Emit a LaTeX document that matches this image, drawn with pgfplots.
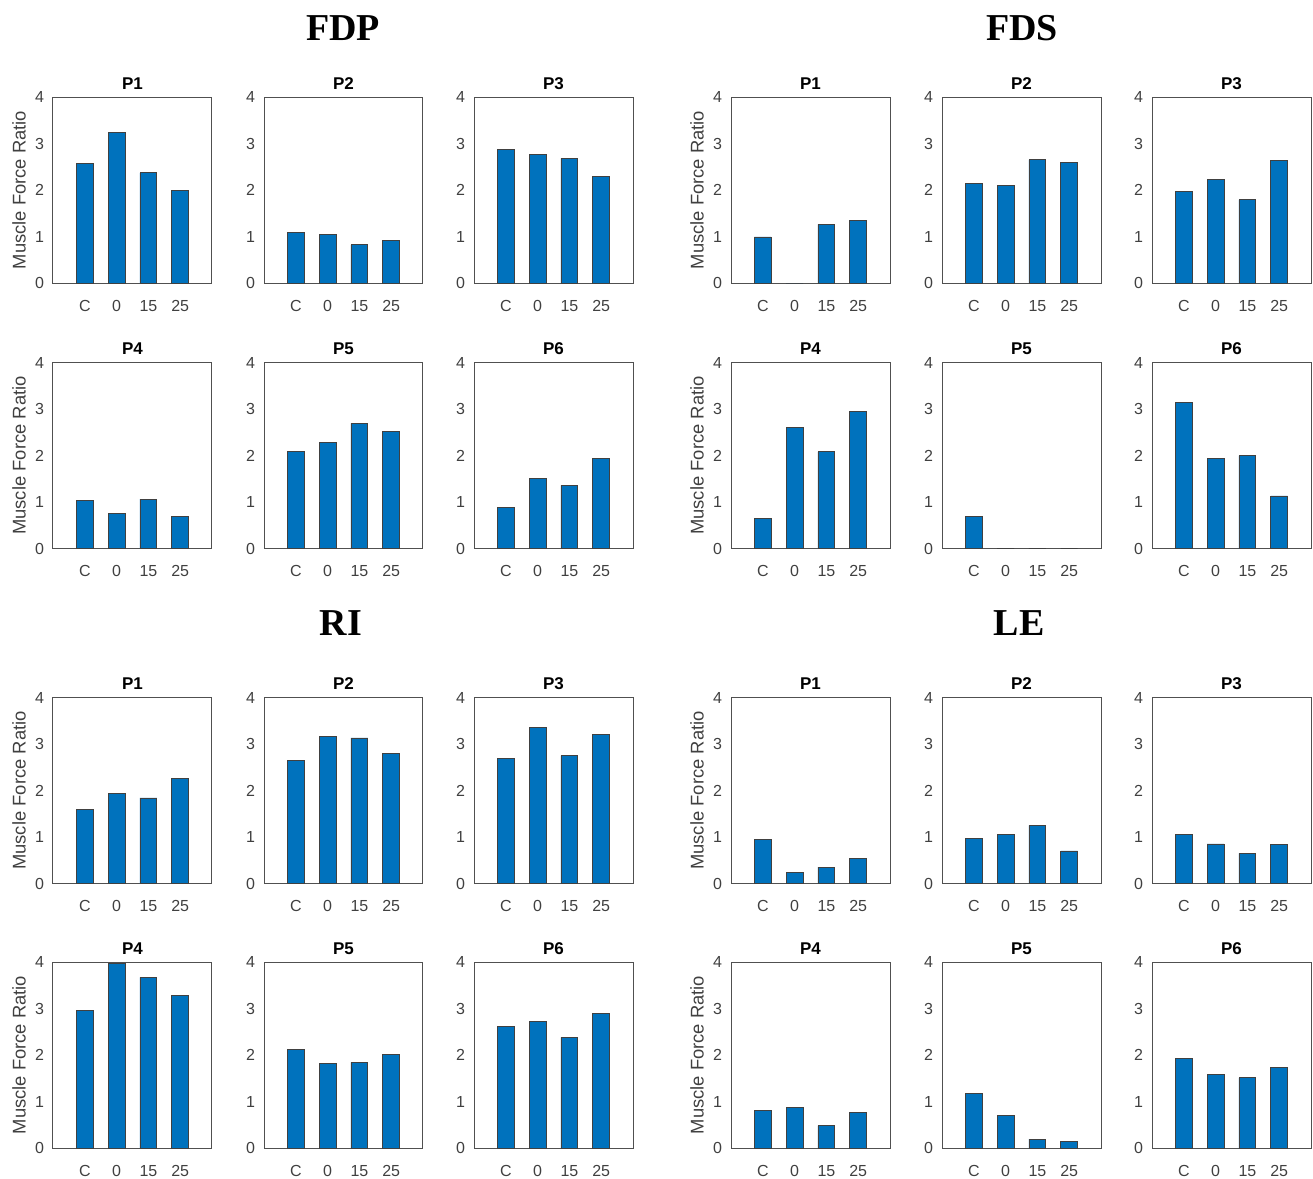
\documentclass[border=0pt]{standalone}
\usepackage{fontspec}
\setmainfont{Liberation Sans}
\newfontfamily\timesb{Liberation Serif}
\usepackage{pgfplots}
\pgfplotsset{compat=1.18}
\definecolor{mblue}{RGB}{0,114,189}
\definecolor{tickgray}{RGB}{64,64,64}
\definecolor{boxgray}{RGB}{80,80,80}
\pgfplotsset{
  every axis title/.style={at={(axis description cs:0.5,1.0414)},anchor=base,font=\bfseries\fontsize{8.5}{10}\selectfont,text=black},
  every axis y label/.style={at={(axis description cs:-0.214,0.5)},rotate=90,anchor=center,font=\fontsize{9.2}{11}\selectfont,text=tickgray},
  panel/.style={
    scale only axis, width=79.5pt, height=93pt,
    xmin=0, xmax=5, ymin=0, ymax=4,
    ytick={0,1,2,3,4}, xtick={1,2,3,4}, xticklabels={C,0,15,25},
    major tick length=0pt,
    /pgf/number format/assume math mode=true,
    tick label style={font=\fontsize{8}{9}\selectfont,text=tickgray},
    xticklabel style={anchor=base,yshift=-14pt,text height=6pt,text depth=0pt},
    yticklabel style={xshift=-1pt},
    axis line style={draw=boxgray,line width=0.5pt},
    ybar, bar width=0.53,
  }
}
\newcommand{\panel}[8]{%
\begin{axis}[panel, at={(#1*0.5pt,-#2*0.5pt)}, anchor=north west, title={#3}, ylabel={#4}]
\addplot[fill=mblue, draw=black!75, line width=0.45pt] coordinates {(1,#5) (2,#6) (3,#7) (4,#8)};
\end{axis}}
\begin{document}
\begin{tikzpicture}
\useasboundingbox (0,0) rectangle (656.5pt,-589.5pt);
% group titles
\node[anchor=base,font=\timesb\bfseries\fontsize{19}{22}\selectfont] at (343*0.5pt,-40*0.5pt) {FDP};
\node[anchor=base,font=\timesb\bfseries\fontsize{19}{22}\selectfont] at (1022*0.5pt,-40*0.5pt) {FDS};
\node[anchor=base,font=\timesb\bfseries\fontsize{19}{22}\selectfont] at (341*0.5pt,-635*0.5pt) {RI};
\node[anchor=base,font=\timesb\bfseries\fontsize{19}{22}\selectfont] at (1019*0.5pt,-635*0.5pt) {LE};
% FDP
\panel{53}{97}{P1}{Muscle Force Ratio}{2.57}{3.23}{2.37}{1.99}
\panel{264}{97}{P2}{}{1.08}{1.05}{0.82}{0.92}
\panel{474}{97}{P3}{}{2.87}{2.77}{2.68}{2.29}
\panel{53}{362.5}{P4}{Muscle Force Ratio}{1.04}{0.75}{1.06}{0.68}
\panel{264}{362.5}{P5}{}{2.08}{2.28}{2.69}{2.51}
\panel{474}{362.5}{P6}{}{0.88}{1.50}{1.36}{1.94}
% FDS
\panel{731}{97}{P1}{Muscle Force Ratio}{0.99}{0}{1.26}{1.34}
\panel{942}{97}{P2}{}{2.14}{2.09}{2.65}{2.59}
\panel{1152}{97}{P3}{}{1.97}{2.22}{1.79}{2.63}
\panel{731}{362.5}{P4}{Muscle Force Ratio}{0.65}{2.60}{2.08}{2.95}
\panel{942}{362.5}{P5}{}{0.68}{0}{0}{0}
\panel{1152}{362.5}{P6}{}{3.15}{1.94}{2.00}{1.13}
% RI
\panel{53}{697.5}{P1}{Muscle Force Ratio}{1.59}{1.94}{1.84}{2.25}
\panel{264}{697.5}{P2}{}{2.64}{3.17}{3.13}{2.80}
\panel{474}{697.5}{P3}{}{2.68}{3.35}{2.75}{3.21}
\panel{53}{962}{P4}{Muscle Force Ratio}{2.96}{3.96}{3.67}{3.28}
\panel{264}{962}{P5}{}{2.11}{1.81}{1.84}{2.02}
\panel{474}{962}{P6}{}{2.61}{2.73}{2.38}{2.89}
% LE
\panel{731}{697.5}{P1}{Muscle Force Ratio}{0.95}{0.24}{0.35}{0.54}
\panel{942}{697.5}{P2}{}{0.97}{1.06}{1.25}{0.70}
\panel{1152}{697.5}{P3}{}{1.06}{0.85}{0.65}{0.83}
\panel{731}{962}{P4}{Muscle Force Ratio}{0.81}{0.87}{0.48}{0.76}
\panel{942}{962}{P5}{}{1.17}{0.69}{0.19}{0.14}
\panel{1152}{962}{P6}{}{1.93}{1.58}{1.51}{1.73}
\end{tikzpicture}
\end{document}
